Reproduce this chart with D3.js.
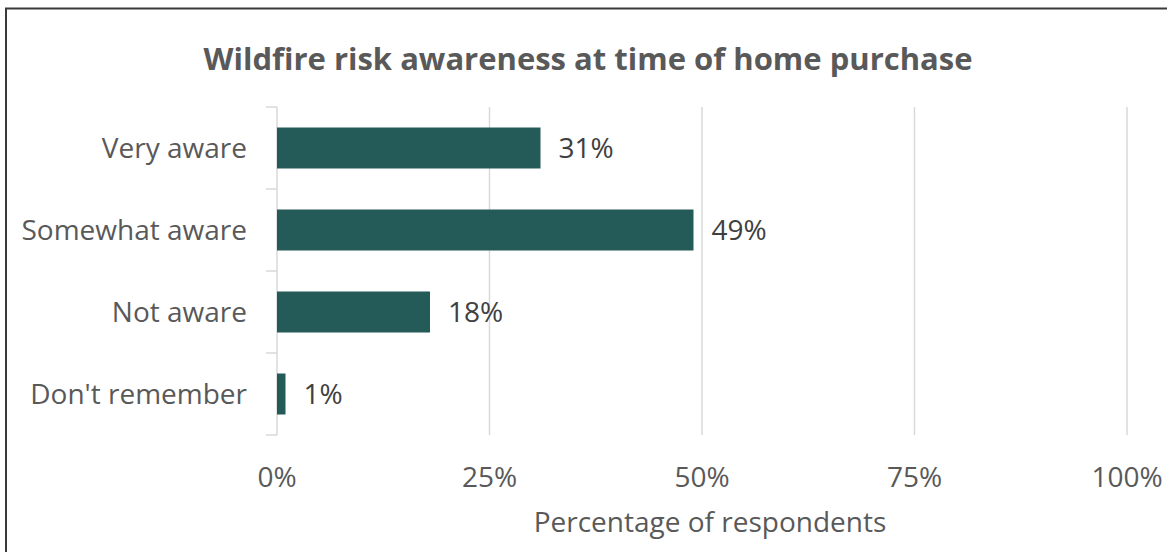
<!DOCTYPE html>
<html>
<head>
<meta charset="utf-8">
<script src="https://cdn.jsdelivr.net/npm/d3@7"></script>
<style>
  html, body { margin: 0; padding: 0; background: #fff; }
  svg { display: block; }
  text { font-family: "Open Sans", "Noto Sans", sans-serif; }
</style>
</head>
<body>
<svg id="chart" width="1167" height="552"></svg>
<script>
// Survey responses: awareness of wildfire risk when the home was bought
const categories = ["Very aware", "Somewhat aware", "Not aware", "Don't remember"];
const shares = [31, 49, 18, 1];
const tickValues = [0, 25, 50, 75, 100];
const tickLabels = ["0%", "25%", "50%", "75%", "100%"];
const title = "Wildfire risk awareness at time of home purchase";
const axisTitle = "Percentage of respondents";

const W = 1167, H = 552;
const svg = d3.select("#chart");

// Frame around the chart area
svg.append("rect")
  .attr("x", 6).attr("y", 8.5)
  .attr("width", W + 20).attr("height", H + 20)
  .attr("fill", "none").attr("stroke", "#3a3a3a").attr("stroke-width", 2);

const x = d3.scaleLinear().domain([0, 100]).range([277, 1127]);
const y = d3.scaleBand().domain(categories).range([107, 435]).paddingInner(0.5).paddingOuter(0.25);
const band = d3.scaleBand().domain(categories).range([107, 435]);

// Title
svg.append("text")
  .attr("x", 588).attr("y", 70)
  .attr("text-anchor", "middle")
  .attr("font-size", 31).attr("font-weight", 700)
  .attr("fill", "#595959")
  .text(title);

// Vertical gridlines
svg.append("g").selectAll("line")
  .data(tickValues.slice(1))
  .join("line")
  .attr("x1", d => x(d)).attr("x2", d => x(d))
  .attr("y1", 107).attr("y2", 435)
  .attr("stroke", "#d9d9d9").attr("stroke-width", 1.5);

// Category axis with outer tick marks between bands
const yAxis = svg.append("g");
yAxis.append("line")
  .attr("x1", x(0)).attr("x2", x(0))
  .attr("y1", 107).attr("y2", 435)
  .attr("stroke", "#d9d9d9").attr("stroke-width", 1.5);
const edges = categories.map(c => band(c)).concat([435]);
yAxis.selectAll("line.tick")
  .data(edges)
  .join("line").attr("class", "tick")
  .attr("x1", x(0) - 11).attr("x2", x(0))
  .attr("y1", d => d).attr("y2", d => d)
  .attr("stroke", "#d9d9d9").attr("stroke-width", 1.5);

yAxis.selectAll("text")
  .data(categories)
  .join("text")
  .attr("x", 247)
  .attr("y", d => band(d) + band.bandwidth() / 2)
  .attr("dy", "0.35em")
  .attr("text-anchor", "end")
  .attr("font-size", 28)
  .attr("fill", "#595959")
  .text(d => d);

// Bars
const rows = categories.map((c, i) => ({ c, v: shares[i] }));
svg.append("g").selectAll("rect")
  .data(rows)
  .join("rect")
  .attr("x", x(0))
  .attr("y", d => y(d.c))
  .attr("width", d => x(d.v) - x(0))
  .attr("height", y.bandwidth())
  .attr("fill", "#245a57");

// Value labels
svg.append("g").selectAll("text")
  .data(rows)
  .join("text")
  .attr("x", d => x(d.v) + 18)
  .attr("y", d => y(d.c) + y.bandwidth() / 2)
  .attr("dy", "0.35em")
  .attr("font-size", 28)
  .attr("fill", "#404040")
  .text(d => d.v + "%");

// Horizontal axis tick labels
svg.append("g").selectAll("text")
  .data(tickValues)
  .join("text")
  .attr("x", d => x(d))
  .attr("y", 477)
  .attr("dy", "0.35em")
  .attr("text-anchor", "middle")
  .attr("font-size", 28)
  .attr("fill", "#595959")
  .text((d, i) => tickLabels[i]);

// Axis title
svg.append("text")
  .attr("x", 710).attr("y", 522)
  .attr("dy", "0.35em")
  .attr("text-anchor", "middle")
  .attr("font-size", 28)
  .attr("fill", "#595959")
  .text(axisTitle);
</script>
</body>
</html>
